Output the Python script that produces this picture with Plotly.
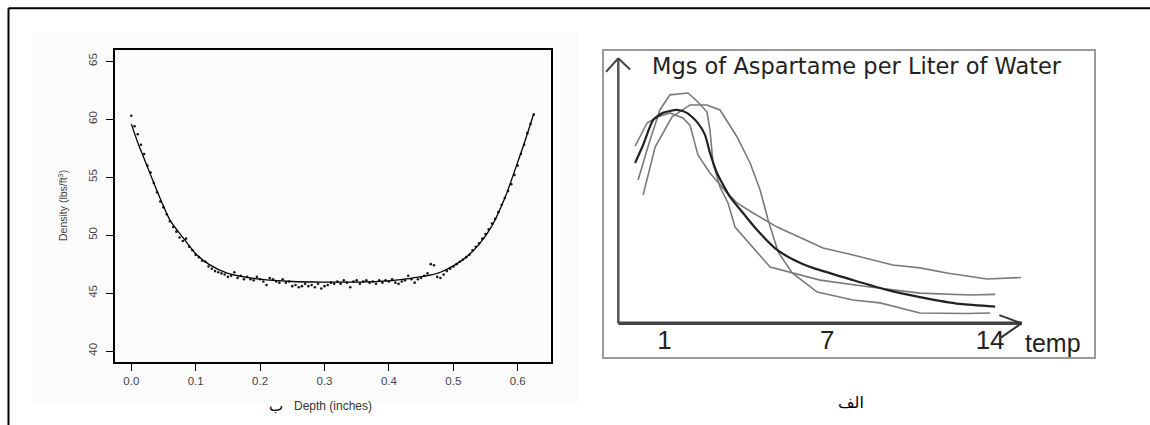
import plotly.graph_objects as go

# ---------------- Left panel data: density profile ----------------
depth_ticks = [0.0, 0.1, 0.2, 0.3, 0.4, 0.5, 0.6]
depth_tick_text = ["0.0", "0.1", "0.2", "0.3", "0.4", "0.5", "0.6"]
density_ticks = [40, 45, 50, 55, 60, 65]

depth_pts = [
    0.000, 0.005, 0.010, 0.015, 0.020, 0.025, 0.030, 0.035, 0.040, 0.045,
    0.050, 0.055, 0.060, 0.065, 0.070, 0.075, 0.080, 0.085, 0.090, 0.095,
    0.100, 0.105, 0.110, 0.115, 0.120, 0.125, 0.130, 0.135, 0.140, 0.145,
    0.150, 0.155, 0.160, 0.165, 0.170, 0.175, 0.180, 0.185, 0.190, 0.195,
    0.200, 0.205, 0.210, 0.215, 0.220, 0.225, 0.230, 0.235, 0.240, 0.245,
    0.250, 0.255, 0.260, 0.265, 0.270, 0.275, 0.280, 0.285, 0.290, 0.295,
    0.300, 0.305, 0.310, 0.315, 0.320, 0.325, 0.330, 0.335, 0.340, 0.345,
    0.350, 0.355, 0.360, 0.365, 0.370, 0.375, 0.380, 0.385, 0.390, 0.395,
    0.400, 0.405, 0.410, 0.415, 0.420, 0.425, 0.430, 0.435, 0.440, 0.445,
    0.450, 0.455, 0.460, 0.465, 0.470, 0.475, 0.480, 0.485, 0.490, 0.495,
    0.500, 0.505, 0.510, 0.515, 0.520, 0.525, 0.530, 0.535, 0.540, 0.545,
    0.550, 0.555, 0.560, 0.565, 0.570, 0.575, 0.580, 0.585, 0.590, 0.595,
    0.600, 0.605, 0.610, 0.615, 0.620, 0.625,
]
density_pts = [
    60.3, 59.4, 58.7, 57.8, 57.0, 56.0, 55.4, 54.5, 53.7, 52.9,
    52.4, 51.8, 51.2, 50.7, 50.3, 49.8, 49.5, 49.7, 49.0, 48.7,
    48.3, 48.1, 47.8, 47.7, 47.3, 47.1, 46.9, 46.8, 46.7, 46.6,
    46.4, 46.5, 46.8, 46.3, 46.5, 46.2, 46.4, 46.2, 46.1, 46.4,
    46.2, 46.0, 45.7, 46.3, 46.2, 46.0, 45.9, 46.2, 45.9, 46.0,
    45.6, 45.7, 45.5, 45.6, 45.8, 45.6, 45.7, 45.5, 45.8, 45.4,
    45.6, 45.7, 45.9, 45.8, 46.0, 45.8, 46.1, 45.9, 45.5, 46.0,
    46.1, 45.8, 46.0, 46.1, 45.9, 46.0, 45.8, 46.1, 45.9, 46.1,
    46.0, 46.2, 45.9, 45.8, 46.0, 46.1, 46.5, 46.2, 45.9, 46.2,
    46.3, 46.5, 46.7, 47.5, 47.4, 46.4, 46.3, 46.6, 46.9, 47.1,
    47.3, 47.5, 47.7, 47.9, 48.1, 48.3, 48.7, 49.0, 49.3, 49.7,
    50.1, 50.5, 51.0, 51.4, 52.0, 52.6, 53.2, 53.8, 54.4, 55.2,
    56.0, 57.0, 57.8, 58.8, 59.6, 60.4,
]

fit_depth = [0.0, 0.01, 0.02, 0.03, 0.04, 0.05, 0.06, 0.08, 0.10, 0.12,
             0.15, 0.20, 0.25, 0.30, 0.35, 0.40, 0.43, 0.46, 0.48, 0.50,
             0.52, 0.54, 0.56, 0.58, 0.60, 0.61, 0.625]
fit_density = [59.6, 58.0, 56.6, 55.2, 53.8, 52.5, 51.3, 49.8, 48.4, 47.5,
               46.7, 46.2, 46.0, 45.95, 45.95, 46.05, 46.25, 46.5, 46.8, 47.35,
               48.1, 49.2, 50.8, 53.2, 56.3, 57.9, 60.5]

# ---------------- Right panel data: aspartame sketch ----------------
temp_tick_pos = [1, 7.5, 14]
temp_tick_text = ["1", "7", "14"]

mean_t = [-0.17, 0.15, 0.55, 0.94, 1.50, 1.90, 2.30, 2.62, 2.82, 3.10, 3.62,
          4.14, 4.70, 5.50, 6.34, 6.93, 8.53, 9.89, 11.20, 12.80, 14.20]
mean_v = [60.5, 67.3, 76.7, 79.4, 80.5, 79.4, 76.0, 71.1, 64.3, 56.7, 47.7,
          41.6, 35.2, 27.7, 23.1, 20.9, 16.3, 12.6, 9.9, 7.3, 6.3]

s1_t = [-0.17, 0.31, 0.70, 1.22, 1.74, 2.02, 2.34, 2.82, 3.50, 3.90, 4.54,
        5.50, 7.33, 8.53, 10.12, 11.20, 12.28, 13.88, 15.24]
s1_v = [66.9, 75.6, 77.8, 79.4, 77.5, 74.8, 63.5, 56.7, 49.2, 45.4, 41.6,
        36.3, 28.4, 25.8, 22.0, 20.9, 19.0, 16.7, 17.3]

s2_t = [-0.05, 0.39, 0.82, 1.22, 1.94, 2.34, 2.70, 2.82, 2.94, 3.22, 3.54,
        3.82, 5.22, 7.21, 9.21, 11.20, 13.20, 14.20]
s2_v = [54.1, 68.0, 80.5, 86.2, 86.9, 83.5, 79.7, 72.9, 60.5, 51.4, 45.4,
        36.3, 21.2, 16.3, 13.7, 11.4, 10.7, 10.9]

s3_t = [0.15, 0.63, 1.30, 2.02, 2.70, 3.22, 3.90, 4.42, 4.82, 5.14, 5.54,
        6.10, 7.10, 8.53, 9.61, 11.20, 13.08, 14.00]
s3_v = [48.4, 66.5, 77.8, 82.4, 82.4, 80.5, 70.3, 60.5, 50.3, 39.0, 26.9,
        19.0, 11.8, 8.8, 7.7, 3.9, 3.7, 3.9]

# axis-arrow geometry of the hand-drawn axes (data units of the right panel)
ax_x0, ax_y0, ax_xend, ax_yend = -0.84, 0.0, 15.26, 100.0

W, H = 1150, 425
def px(x):
    return x / W
def py(y):
    return 1 - y / H

SANS = "Liberation Sans, Arial, sans-serif"

fig = go.Figure()

fig.add_trace(go.Scatter(x=depth_pts, y=density_pts, mode="markers",
                         marker=dict(size=2.6, color="#1a1a1a"),
                         xaxis="x", yaxis="y", showlegend=False, hoverinfo="skip"))
fig.add_trace(go.Scatter(x=fit_depth, y=fit_density, mode="lines",
                         line=dict(color="black", width=1.3, shape="spline", smoothing=0.8),
                         xaxis="x", yaxis="y", showlegend=False))

for tt, vv in [(s1_t, s1_v), (s2_t, s2_v), (s3_t, s3_v)]:
    fig.add_trace(go.Scatter(x=tt, y=vv, mode="lines",
                             line=dict(color="#7a7a7a", width=1.6),
                             xaxis="x2", yaxis="y2", showlegend=False))
fig.add_trace(go.Scatter(x=mean_t, y=mean_v, mode="lines",
                         line=dict(color="#222222", width=2.2, shape="spline", smoothing=0.6),
                         xaxis="x2", yaxis="y2", showlegend=False))

shapes = [
    # faint background of the pasted left image
    dict(type="rect", xref="paper", yref="paper", x0=px(32), x1=px(578), y0=py(403), y1=py(32),
         fillcolor="#fbfbfb", line=dict(width=0), layer="below"),
    # outer page frame (top and left)
    dict(type="line", xref="paper", yref="paper", x0=px(8.5), x1=1.0, y0=py(8.3), y1=py(8.3),
         line=dict(color="black", width=2)),
    dict(type="line", xref="paper", yref="paper", x0=px(8.5), x1=px(8.5), y0=0, y1=py(8.3),
         line=dict(color="black", width=2)),
    # hand-drawn axes in right panel
    dict(type="line", xref="x2", yref="y2", x0=ax_x0, x1=ax_x0, y0=ax_y0, y1=ax_yend,
         line=dict(color="#555555", width=2.5)),
    dict(type="line", xref="x2", yref="y2", x0=ax_x0, x1=ax_xend, y0=ax_y0, y1=ax_y0,
         line=dict(color="#444444", width=3.5)),
    dict(type="line", xref="x2", yref="y2", x0=ax_x0 - 0.49, x1=ax_x0, y0=ax_yend - 5.1, y1=ax_yend,
         line=dict(color="#444444", width=2)),
    dict(type="line", xref="x2", yref="y2", x0=ax_x0 + 0.47, x1=ax_x0, y0=ax_yend - 4.2, y1=ax_yend,
         line=dict(color="#444444", width=2)),
    dict(type="line", xref="x2", yref="y2", x0=ax_xend - 0.89, x1=ax_xend, y0=ax_y0 + 3.1, y1=ax_y0,
         line=dict(color="#333333", width=2)),
    dict(type="line", xref="x2", yref="y2", x0=ax_xend - 0.87, x1=ax_xend, y0=ax_y0 - 5.7, y1=ax_y0,
         line=dict(color="#333333", width=2)),
]

annotations = [
    dict(text="Density (lbs/ft<sup>3</sup>)", xref="paper", yref="paper", x=px(63), y=py(206),
         textangle=-90, showarrow=False, font=dict(family=SANS, size=10.5, color="#444"),
         xanchor="center", yanchor="middle"),
    dict(text="Depth (inches)", xref="paper", yref="paper", x=px(333), y=py(406),
         showarrow=False, font=dict(family=SANS, size=12, color="#333"),
         xanchor="center", yanchor="middle"),
    dict(text="ب", xref="paper", yref="paper", x=px(276), y=py(406),
         showarrow=False, font=dict(family="DejaVu Sans", size=15, color="black"),
         xanchor="center", yanchor="middle"),
    dict(text="Mgs of Aspartame per Liter of Water", xref="paper", yref="paper",
         x=px(857), y=py(66), showarrow=False,
         font=dict(family="DejaVu Sans", size=22.5, color="#222"),
         xanchor="center", yanchor="middle"),
    dict(text="temp", xref="paper", yref="paper", x=px(1053), y=py(343),
         showarrow=False, font=dict(family=SANS, size=25, color="#222"),
         xanchor="center", yanchor="middle"),
    dict(text="الف", xref="paper", yref="paper", x=px(851), y=py(402),
         showarrow=False, font=dict(family="DejaVu Sans", size=16, color="black"),
         xanchor="center", yanchor="middle"),
]

fig.update_layout(
    width=W, height=H, margin=dict(l=0, r=0, t=0, b=0),
    paper_bgcolor="white", plot_bgcolor="white",
    showlegend=False,
    shapes=shapes, annotations=annotations,
    xaxis=dict(domain=[px(115), px(551)], range=[-0.0253, 0.6517], anchor="y",
               tickvals=depth_ticks, ticktext=depth_tick_text,
               ticks="outside", ticklen=7, tickwidth=1, tickcolor="black",
               showline=True, mirror=True, linecolor="black", linewidth=2,
               showgrid=False, zeroline=False,
               tickfont=dict(family=SANS, size=11.5, color="#444")),
    yaxis=dict(domain=[py(362.3), py(49.7)], range=[39.03, 66.0], anchor="x",
               tickvals=density_ticks, tickangle=-90, ticklabelstandoff=4,
               ticks="outside", ticklen=7, tickwidth=1, tickcolor="black",
               showline=True, mirror=True, linecolor="black", linewidth=2,
               showgrid=False, zeroline=False,
               tickfont=dict(family=SANS, size=11.5, color="#444")),
    xaxis2=dict(domain=[px(604.3), px(1094.3)], range=[-1.399, 18.16], anchor="y2",
                tickvals=temp_tick_pos, ticktext=temp_tick_text,
                ticks="", ticklabelposition="inside", ticklabelstandoff=5,
                showline=True, mirror=True, linecolor="#9a9a9a", linewidth=2,
                showgrid=False, zeroline=False,
                tickfont=dict(family=SANS, size=26, color="#222")),
    yaxis2=dict(domain=[py(357.3), py(51)], range=[-12.83, 102.75], anchor="x2",
                showticklabels=False, ticks="",
                showline=True, mirror=True, linecolor="#9a9a9a", linewidth=2,
                showgrid=False, zeroline=False),
)

fig.write_html("out.html", config={"displayModeBar": False},
               post_script="document.body.style.margin='0';document.body.style.padding='0';")
